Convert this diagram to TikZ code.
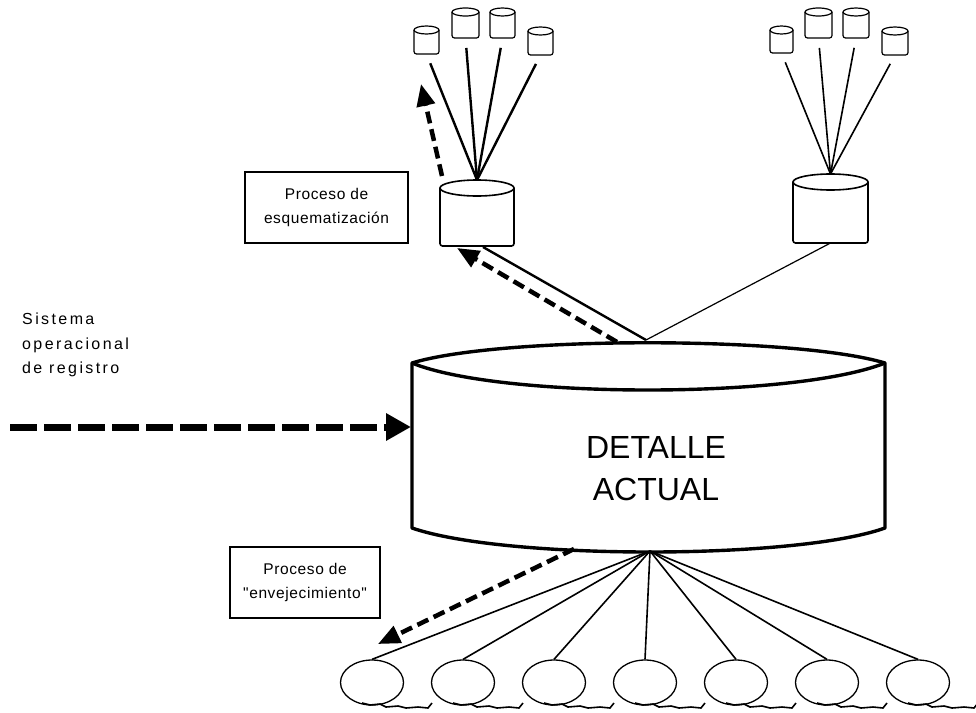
\documentclass[tikz,border=0pt]{standalone}
\usepackage{fontspec}
\setmainfont{Liberation Sans}
\newfontfamily\spacedfont[LetterSpace=15]{Liberation Sans}
\newfontfamily\boxfont[LetterSpace=4]{Liberation Sans}
\usetikzlibrary{shapes.geometric,arrows.meta}
\newcommand\dbcyl[7]{% name, cx, ytop, w, h, ry, lw
  \pgfmathsetmacro\cxl{#2-#4/2}\pgfmathsetmacro\cxr{#2+#4/2}%
  \pgfmathsetmacro\cye{#3+#6}\pgfmathsetmacro\cyb{#3+#5}%
  \draw[line width=#7, rounded corners=2.5pt] (\cxl,\cye) -- (\cxl,\cyb) -- (\cxr,\cyb) -- (\cxr,\cye);
  \draw[line width=#7, fill=white] (#2,\cye) ellipse [x radius=#4/2, y radius=#6];
  \coordinate (#1t) at (#2,#3);
  \coordinate (#1b) at (#2,\cyb);
}
\newcommand\squig[1]{% center x of circle
  \draw[line width=1.6pt] (#1-10,703) -- (#1-2,705) -- (#1+8,704) -- (#1+14,707) -- (#1+26,706) -- (#1+34,708) -- (#1+46,707) -- (#1+56,708) -- (#1+60,703);
}
\begin{document}
\begin{tikzpicture}[x=1pt,y=-1pt,
  boxstyle/.style={draw, line width=2pt, minimum width=#1, minimum height=71pt, align=center, inner sep=2pt,
     font=\boxfont\fontsize{15.5}{24}\selectfont},
  bigdash/.style={line width=7pt, dash pattern=on 27pt off 7pt, -{Triangle[length=25pt,width=26pt]}},
  meddash/.style={line width=4.5pt, dash pattern=on 12pt off 6pt, -{Triangle[length=22pt,width=18pt]}},
  bubble/.style={draw, ellipse, line width=1.3pt, minimum width=63pt, minimum height=45pt, inner sep=0pt},
  thickline/.style={line width=2.4pt},
  thinline/.style={line width=1.6pt}
]
\useasboundingbox (0,0) rectangle (976,712);

% main cylinder
\draw[line width=3.4pt, line join=round, fill=white]
  (412,363) .. controls (500,336) and (795,336) .. (885,363) -- (885,528)
  .. controls (795,560) and (505,560) .. (412,528) -- cycle;
\draw[line width=3.4pt] (412,363) .. controls (500,399) and (795,399) .. (885,363);
\node[align=center, font=\fontsize{32}{42}\selectfont] (detalle) at (656,469) {DETALLE\\ACTUAL};
\coordinate (maintop) at (646,340);
\coordinate (mainbot) at (650,551);
\coordinate (mainleft) at (411,427);

% left input
\node[anchor=north west, align=left, font=\spacedfont\fontsize{16}{24.5}\selectfont, inner sep=0pt] (sis) at (22,313) {Sistema\\operacional\\de registro};
\coordinate (src) at (10,427);
\draw[bigdash] (src) -- (mainleft);

% medium cylinders
\dbcyl{L}{477}{180}{74}{66}{8}{1.6pt}
\dbcyl{R}{830.5}{174}{75}{69}{8}{1.6pt}

% small cylinders left
\dbcyl{La}{426.5}{26}{25}{28}{4}{1.2pt}
\dbcyl{Lb2}{465.5}{8}{27}{30}{4}{1.2pt}
\dbcyl{Lc}{502.5}{8}{25}{30}{4}{1.2pt}
\dbcyl{Ld}{540.5}{27}{25}{28}{4}{1.2pt}
% small cylinders right
\dbcyl{Ra}{781.5}{26}{23}{27}{4}{1.2pt}
\dbcyl{Rb2}{818.5}{8}{27}{30}{4}{1.2pt}
\dbcyl{Rc}{856}{8}{26}{30}{4}{1.2pt}
\dbcyl{Rd}{895}{27}{26}{28}{4}{1.2pt}

\foreach \c in {La,Lb2,Lc,Ld} \draw[thickline, shorten >=10pt] (Lt) -- (\c b);
\foreach \c in {Ra,Rb2,Rc,Rd} \draw[thinline, shorten >=10pt] (Rt) -- (\c b);

% connections main -> medium
\coordinate (Lbr) at (483,247);
\draw[thickline] (maintop) -- (Lbr);
\draw[line width=1.2pt] (maintop) -- (Rb);
\coordinate (d1s) at (617,342);
\coordinate (d1e) at (457,248);
\draw[meddash] (d1s) -- (d1e);
\coordinate (d2s) at (442,176);
\coordinate (d2e) at (421,84);
\draw[meddash] (d2s) -- (d2e);

% boxes
\node[boxstyle=163pt] (esq) at (326.5,207.5) {Proceso de\\esquematización};
\node[boxstyle=150pt] (env) at (305,582.5) {Proceso de\\"envejecimiento"};

% bottom bubbles
\foreach \i in {0,...,6} {
  \pgfmathsetmacro\bx{372+91*\i}
  \node[bubble] (b\i) at (\bx,682.5) {};
  \draw[thinline] (mainbot) -- (b\i.north);
  \squig{\bx}
}
\coordinate (d3s) at (574,549);
\coordinate (d3e) at (378,644);
\draw[meddash] (d3s) -- (d3e);
\end{tikzpicture}
\end{document}
